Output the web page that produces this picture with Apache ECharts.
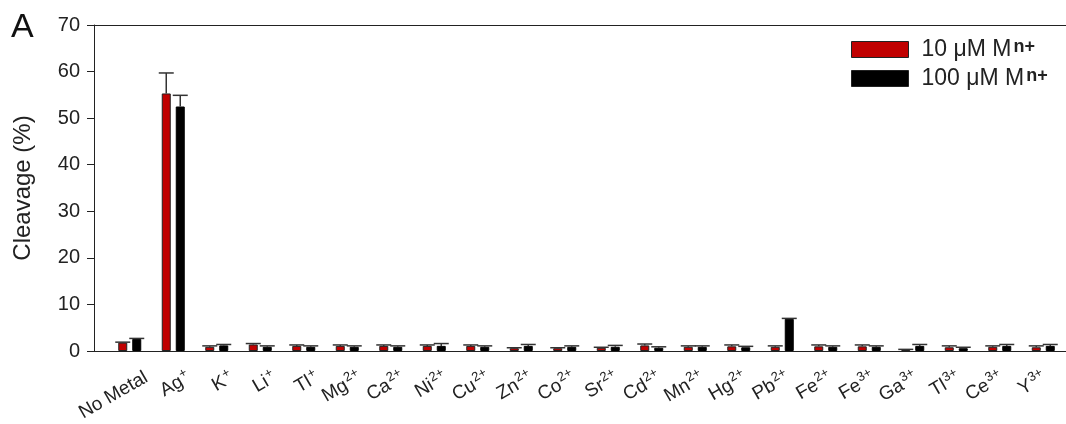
<!DOCTYPE html>
<html>
<head>
<meta charset="utf-8">
<script src="https://cdn.jsdelivr.net/npm/echarts@6/dist/echarts.min.js"></script>
<style>
  html, body { margin: 0; padding: 0; background: #fff; }
  #chart { width: 1066px; height: 424px; }
</style>
</head>
<body>
<div id="chart"></div>
<script>
// Metal ions (base symbol, charge superscript)
const ions = [
  ['No Metal', ''], ['Ag', '+'], ['K', '+'], ['Li', '+'], ['Tl', '+'],
  ['Mg', '2+'], ['Ca', '2+'], ['Ni', '2+'], ['Cu', '2+'], ['Zn', '2+'],
  ['Co', '2+'], ['Sr', '2+'], ['Cd', '2+'], ['Mn', '2+'], ['Hg', '2+'],
  ['Pb', '2+'], ['Fe', '2+'], ['Fe', '3+'], ['Ga', '3+'], ['Tl', '3+'],
  ['Ce', '3+'], ['Y', '3+']
];
const categories = ions.map(d => d[0] + d[1]);

// Cleavage (%) with 10 µM metal ion, and its error
const low = [1.8, 55.3, 0.9, 1.4, 1.1, 1.1, 1.1, 1.1, 1.1, 0.6, 0.6,
             0.7, 1.2, 0.9, 1.0, 0.9, 1.0, 1.0, 0.3, 0.8, 0.9, 0.8];
const lowErr = [0.1, 4.4, 0.2, 0.2, 0.2, 0.2, 0.2, 0.2, 0.2, 0.1, 0.1,
                0.1, 0.3, 0.2, 0.3, 0.2, 0.3, 0.3, 0.05, 0.3, 0.2, 0.3];

// Cleavage (%) with 100 µM metal ion, and its error
const high = [2.6, 52.5, 1.2, 0.9, 0.9, 0.9, 0.9, 1.1, 0.9, 1.1, 0.9,
              0.9, 0.7, 0.9, 0.8, 6.9, 0.9, 0.9, 1.1, 0.6, 1.1, 1.1];
const highErr = [0.1, 2.4, 0.2, 0.2, 0.2, 0.2, 0.2, 0.5, 0.2, 0.3, 0.2,
                 0.3, 0.2, 0.2, 0.2, 0.1, 0.2, 0.2, 0.3, 0.2, 0.3, 0.3];

const yTicks = [0, 10, 20, 30, 40, 50, 60, 70];

const seriesNames = ['10 \u03bcM M{sup|n+}', '100 \u03bcM M{sup|n+}'];
const RED = '#c00000';
const INK = '#222';
const FONT = '"Liberation Sans", Arial, sans-serif';

const BAR_W = 9;
const BAR_GAP = 5;

function errorBar(offset) {
  return function (params, api) {
    const i = api.value(0);
    const top = api.coord([i, api.value(1)]);
    const end = api.coord([i, api.value(2)]);
    const x = top[0] + offset;
    const half = 7.5;
    const style = { stroke: '#333', lineWidth: 1.5 };
    return {
      type: 'group',
      children: [
        { type: 'line', shape: { x1: x, y1: top[1], x2: x, y2: end[1] }, style },
        { type: 'line', shape: { x1: x - half, y1: end[1], x2: x + half, y2: end[1] }, style }
      ]
    };
  };
}

const frameLine = { show: true, lineStyle: { color: INK, width: 1 } };

const chart = echarts.init(document.getElementById('chart'), null, { renderer: 'canvas' });

chart.setOption({
  animation: false,
  backgroundColor: '#fff',
  textStyle: { fontFamily: FONT },
  graphic: [{
    type: 'text', left: 11, top: 11,
    style: { text: 'A', fontSize: 34, fill: '#111', fontFamily: FONT }
  }],
  legend: {
    orient: 'vertical',
    left: 846, top: 33,
    itemWidth: 57, itemHeight: 16, itemGap: 6,
    icon: 'rect',
    data: [
      { name: seriesNames[0], itemStyle: { color: RED, borderColor: INK, borderWidth: 1 } },
      { name: seriesNames[1], itemStyle: { color: '#000', borderColor: INK, borderWidth: 1 } }
    ],
    formatter: name => name,
    textStyle: {
      fontFamily: FONT, fontSize: 23, lineHeight: 22, color: INK, padding: [0, 0, 0, 8],
      rich: {
        sup: { fontSize: 18, lineHeight: 22, fontWeight: 'bold', color: INK, verticalAlign: 'top', padding: [0, 0, 2, 2] }
      }
    }
  },
  grid: [
    // frame: value axis, top line and baseline
    { left: 94, right: 0, top: 25, bottom: 73 },
    // bars
    { left: 108, right: 1, top: 25, bottom: 73 },
    // category labels
    { left: 125, right: -16, top: 25, bottom: 73 }
  ],
  xAxis: [
    {
      gridIndex: 0, type: 'value', min: 0, max: 1, position: 'bottom',
      axisLine: frameLine, axisTick: { show: false }, axisLabel: { show: false }, splitLine: { show: false }
    },
    {
      gridIndex: 0, type: 'value', min: 0, max: 1, position: 'top',
      axisLine: frameLine, axisTick: { show: false }, axisLabel: { show: false }, splitLine: { show: false }
    },
    { gridIndex: 1, type: 'category', data: categories, show: false },
    {
      gridIndex: 2, type: 'category', data: categories,
      axisLine: { show: false }, axisTick: { show: false },
      axisLabel: {
        interval: 0, rotate: 30, margin: 30,
        fontFamily: FONT, fontSize: 19, color: INK,
        formatter: (v, i) => ions[i][0] + (ions[i][1] ? '{sup|' + ions[i][1] + '}' : ''),
        rich: {
          sup: { fontSize: 13, color: INK, verticalAlign: 'top', padding: [0, 0, 11, 1] }
        }
      }
    }
  ],
  yAxis: [
    {
      gridIndex: 0, type: 'value', min: yTicks[0], max: yTicks[yTicks.length - 1], interval: 10,
      name: 'Cleavage (%)', nameLocation: 'middle', nameGap: 59,
      nameTextStyle: { fontFamily: FONT, fontSize: 24, color: INK },
      axisLine: frameLine,
      axisTick: { show: true, inside: false, length: 7, lineStyle: { color: INK, width: 1 } },
      axisLabel: { fontFamily: FONT, fontSize: 20, color: INK, margin: 14 },
      splitLine: { show: false }
    },
    { gridIndex: 1, type: 'value', min: 0, max: 70, show: false },
    { gridIndex: 2, type: 'value', min: 0, max: 70, show: false }
  ],
  series: [
    {
      name: seriesNames[0], type: 'bar', xAxisIndex: 2, yAxisIndex: 1,
      data: low, barWidth: BAR_W, barGap: (BAR_GAP / BAR_W * 100) + '%',
      itemStyle: { color: RED, borderColor: INK, borderWidth: 1 }, z: 2
    },
    {
      name: seriesNames[1], type: 'bar', xAxisIndex: 2, yAxisIndex: 1,
      data: high, barWidth: BAR_W,
      itemStyle: { color: '#000', borderColor: '#000', borderWidth: 1 }, z: 2
    },
    {
      type: 'custom', xAxisIndex: 2, yAxisIndex: 1, z: 3,
      renderItem: errorBar(-(BAR_W + BAR_GAP) / 2),
      data: low.map((v, i) => [i, v, v + lowErr[i]])
    },
    {
      type: 'custom', xAxisIndex: 2, yAxisIndex: 1, z: 3,
      renderItem: errorBar((BAR_W + BAR_GAP) / 2),
      data: high.map((v, i) => [i, v, v + highErr[i]])
    }
  ]
});
</script>
</body>
</html>
